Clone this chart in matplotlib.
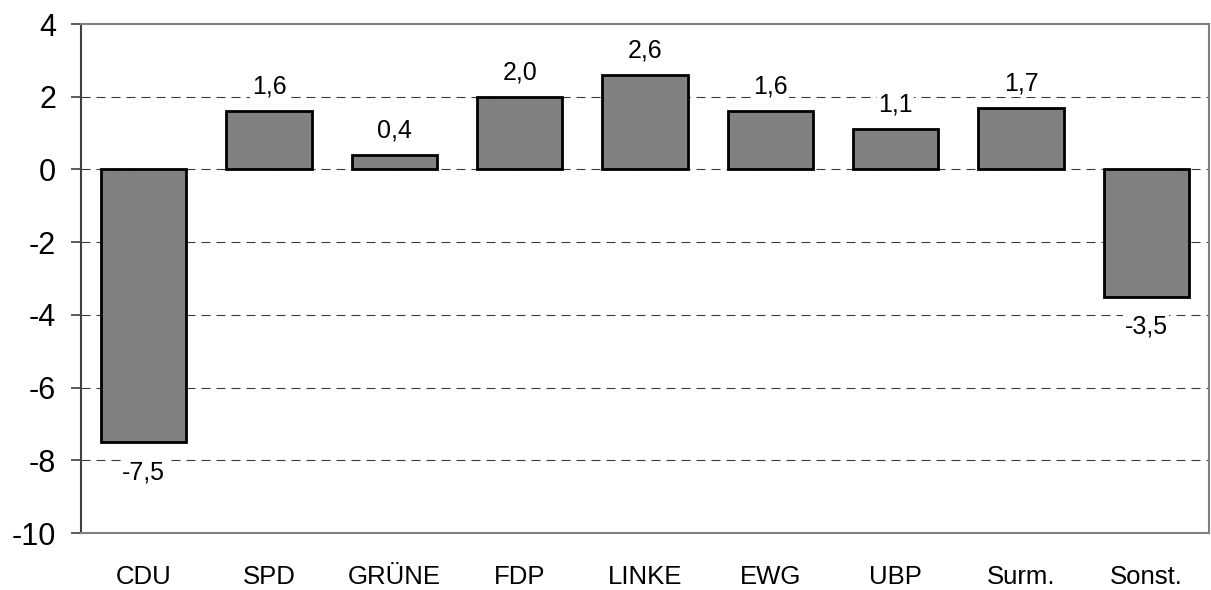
#!/usr/bin/env python3
"""
Gewinne/Verluste je Partei - Balkendiagramm
"""
import matplotlib
matplotlib.use("Agg")
import matplotlib.pyplot as plt

# Daten
parteien = ["CDU", "SPD", "GRÜNE", "FDP", "LINKE", "EWG", "UBP", "Surm.", "Sonst."]
differenz = [-7.5, 1.6, 0.4, 2.0, 2.6, 1.6, 1.1, 1.7, -3.5]
y_ticks = [-10, -8, -6, -4, -2, 0, 2, 4]

plt.rcParams['font.family'] = ['Liberation Sans', 'DejaVu Sans']

fig = plt.figure(figsize=(12.11, 5.90), dpi=100)
ax = fig.add_axes([0.0669, 0.0966, 0.9314, 0.8627])

x = range(len(parteien))
bars = ax.bar(x, differenz, width=0.68, color='#808080', edgecolor='black',
              linewidth=2.0, zorder=3)

# Gitterlinien (gestrichelt), inkl. Nulllinie
for t in y_ticks:
    if t in (-10, 4):
        continue
    ax.axhline(t, color='#3a3a3a', linestyle=(0, (8.1, 5.4)), linewidth=0.8, zorder=1)

# Werte an den Balken
for b, v in zip(bars, differenz):
    label = f"{v:.1f}".replace('.', ',')
    cx = b.get_x() + b.get_width() / 2
    if v >= 0:
        ax.annotate(label, (cx, v), xytext=(0, 9), textcoords='offset points',
                    ha='center', va='bottom', fontsize=18, zorder=4,
                    bbox=dict(facecolor='white', edgecolor='none', pad=1))
    else:
        ax.annotate(label, (cx, v), xytext=(0, -13), textcoords='offset points',
                    ha='center', va='top', fontsize=18, zorder=4,
                    bbox=dict(facecolor='white', edgecolor='none', pad=1))

ax.set_xlim(-0.5, len(parteien) - 0.5)
ax.set_ylim(-10, 4)
ax.set_yticks(y_ticks)
ax.set_yticklabels([str(t) for t in y_ticks], fontsize=22)
ax.set_xticks(list(x))
ax.set_xticklabels(parteien, fontsize=18.5)
ax.tick_params(axis='x', length=0, pad=23)
ax.tick_params(axis='y', length=7, width=1.2, color='#404040', pad=11)

for side in ('top', 'right', 'bottom'):
    ax.spines[side].set_color('#808080')
    ax.spines[side].set_linewidth(1.5)
ax.spines['left'].set_color('#404040')
ax.spines['left'].set_linewidth(1.5)

fig.savefig('out.png', dpi=100)
